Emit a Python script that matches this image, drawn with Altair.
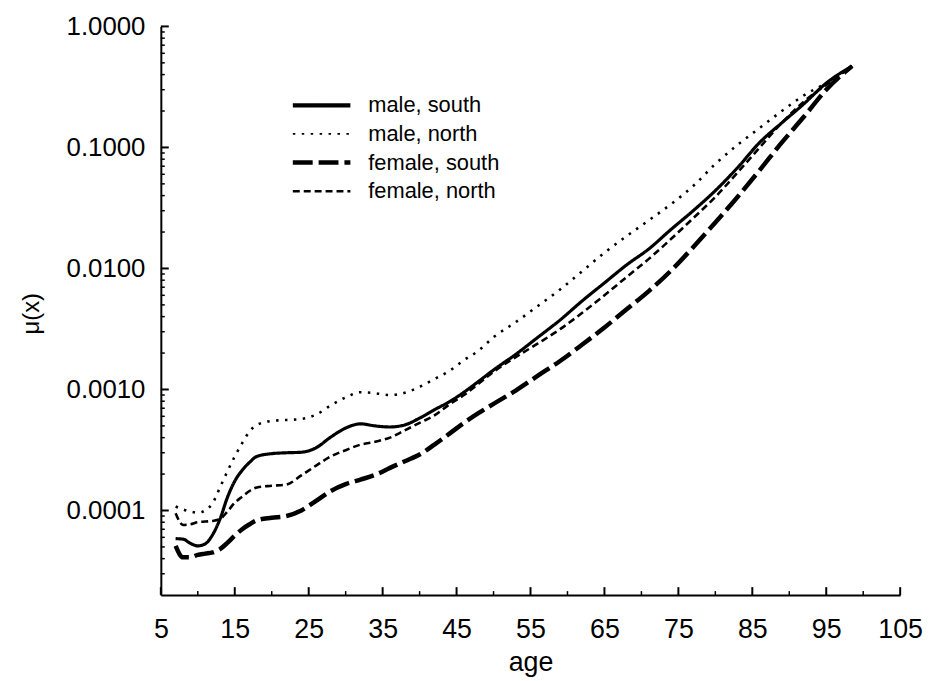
import altair as alt
import pandas as pd

# ---- data ----
ages = [7, 8, 9, 10, 11, 12, 13, 14, 15, 16, 17, 18, 20, 22, 24, 26, 28, 30, 32, 34, 36, 38,
        40, 42, 44, 46, 48, 50, 53, 56, 59, 62, 65, 68, 71, 74, 77, 80, 83, 86, 89, 92, 95, 98.5]

male_south = [5.85e-5, 5.8e-5, 5.35e-5, 5.1e-5, 5.3e-5, 6.3e-5, 8.5e-5, 1.28e-4, 1.75e-4, 2.15e-4,
              2.5e-4, 2.8e-4, 2.95e-4, 3.0e-4, 3.03e-4, 3.3e-4, 4.05e-4, 4.8e-4, 5.2e-4, 5.0e-4,
              4.9e-4, 5.1e-4, 5.8e-4, 6.8e-4, 7.9e-4, 9.5e-4, 1.17e-3, 1.45e-3, 1.95e-3, 2.7e-3,
              3.75e-3, 5.4e-3, 7.6e-3, 1.07e-2, 1.45e-2, 2.1e-2, 3.0e-2, 4.4e-2, 6.8e-2, 0.11,
              0.16, 0.23, 0.34, 0.47]

male_north = [1.08e-4, 1.02e-4, 9.8e-5, 9.6e-5, 1.0e-4, 1.15e-4, 1.55e-4, 2.1e-4, 2.8e-4, 3.6e-4,
              4.5e-4, 5.1e-4, 5.5e-4, 5.6e-4, 5.7e-4, 6.2e-4, 7.4e-4, 8.6e-4, 9.5e-4, 9.3e-4,
              9.0e-4, 9.4e-4, 1.05e-3, 1.22e-3, 1.42e-3, 1.75e-3, 2.1e-3, 2.7e-3, 3.6e-3, 4.9e-3,
              6.7e-3, 9.5e-3, 1.35e-2, 1.85e-2, 2.5e-2, 3.4e-2, 4.8e-2, 7.3e-2, 0.105, 0.145,
              0.2, 0.27, 0.34, 0.47]

female_south = [5.1e-5, 4.1e-5, 4.1e-5, 4.3e-5, 4.4e-5, 4.5e-5, 4.8e-5, 5.4e-5, 6.2e-5, 7.0e-5,
                7.7e-5, 8.3e-5, 8.7e-5, 9.0e-5, 1.0e-4, 1.2e-4, 1.45e-4, 1.65e-4, 1.8e-4, 1.97e-4,
                2.25e-4, 2.55e-4, 2.9e-4, 3.5e-4, 4.3e-4, 5.3e-4, 6.4e-4, 7.6e-4, 9.8e-4, 1.3e-3,
                1.72e-3, 2.35e-3, 3.25e-3, 4.6e-3, 6.5e-3, 9.6e-3, 1.5e-2, 2.4e-2, 3.9e-2, 6.5e-2,
                0.11, 0.18, 0.3, 0.47]

female_north = [9.5e-5, 7.6e-5, 7.7e-5, 8.0e-5, 8.1e-5, 8.2e-5, 8.5e-5, 9.8e-5, 1.16e-4, 1.3e-4,
                1.45e-4, 1.55e-4, 1.6e-4, 1.64e-4, 1.95e-4, 2.35e-4, 2.8e-4, 3.15e-4, 3.5e-4, 3.7e-4,
                4.0e-4, 4.6e-4, 5.3e-4, 6.1e-4, 7.5e-4, 9.0e-4, 1.12e-3, 1.4e-3, 1.85e-3, 2.4e-3,
                3.15e-3, 4.3e-3, 6.0e-3, 8.5e-3, 1.2e-2, 1.75e-2, 2.6e-2, 3.9e-2, 6.2e-2, 0.1,
                0.16, 0.24, 0.33, 0.47]

series_names = ["male, south", "male, north", "female, south", "female, north"]
series_values = [male_south, male_north, female_south, female_north]
series_widths = [3.2, 2.6, 4.5, 2.6]
legend_widths = [4.2, 1.8, 4.5, 2.6]

x_major = [5, 15, 25, 35, 45, 55, 65, 75, 85, 95, 105]
x_minor = [10, 20, 30, 40, 50, 60, 70, 80, 90, 100]
y_major = [0.0001, 0.001, 0.01, 0.1, 1.0]
y_minor = [m * d for d in [1e-5, 1e-4, 1e-3, 1e-2, 1e-1] for m in range(2, 10) if m * d > 2.5e-5]

# ---- tables ----
rows = []
for name, vals, sw in zip(series_names, series_values, series_widths):
    for a, v in zip(ages, vals):
        rows.append({"age": a, "mu": v, "series": name, "sw": sw})
df = pd.DataFrame(rows)
legend_df = pd.DataFrame({"series": series_names, "sw": legend_widths})

W, H = 745, 573
FONT = "Liberation Sans"

x_scale = alt.Scale(domain=[5, 105], nice=False, zero=False)
y_scale = alt.Scale(type="log", domain=[2e-5, 1], nice=False)
dash_scale = alt.Scale(domain=series_names, range=[[1, 0], [2.5, 6.5], [20, 6], [7, 4]])

lines = alt.Chart(df).mark_line(color="black", interpolate="monotone", strokeJoin="round").encode(
    x=alt.X("age:Q", scale=x_scale,
            axis=alt.Axis(values=x_major, ticks=False, grid=False, domainColor="black",
                          domainWidth=2, labelFontSize=27, labelFont=FONT, labelColor="black",
                          labelPadding=22, labelFlush=False, title="age", titleFont=FONT,
                          titleFontSize=27, titleFontWeight="normal", titleColor="black",
                          titleBaseline="alphabetic", titleY=76)),
    y=alt.Y("mu:Q", scale=y_scale,
            axis=alt.Axis(values=y_major, format=".4f", ticks=False, grid=False,
                          domainColor="black", domainWidth=2, labelFontSize=26, labelFont=FONT,
                          labelColor="black", labelPadding=16, labelFlush=False, title="μ(x)",
                          titleFont=FONT, titleFontSize=24, titleFontWeight="normal",
                          titleColor="black", titleX=-130, titleY=289, titleAlign="center",
                          titleBaseline="middle", titleAngle=270)),
    strokeDash=alt.StrokeDash("series:N", scale=dash_scale, legend=None),
    strokeWidth=alt.StrokeWidth("sw:Q", scale=None, legend=None),
    detail="series:N",
)

xmaj = alt.Chart(pd.DataFrame({"v": x_major})).mark_rule(color="black", strokeWidth=2).encode(
    x=alt.X("v:Q", scale=x_scale), y=alt.value(H), y2=alt.value(H - 8))
xmin = alt.Chart(pd.DataFrame({"v": x_minor})).mark_rule(color="black", strokeWidth=1.5).encode(
    x=alt.X("v:Q", scale=x_scale), y=alt.value(H), y2=alt.value(H - 4))
ymaj = alt.Chart(pd.DataFrame({"v": y_major})).mark_rule(color="black", strokeWidth=2).encode(
    y=alt.Y("v:Q", scale=y_scale), x=alt.value(0), x2=alt.value(8))
ymin = alt.Chart(pd.DataFrame({"v": y_minor})).mark_rule(color="black", strokeWidth=1.5).encode(
    y=alt.Y("v:Q", scale=y_scale), x=alt.value(0), x2=alt.value(4))

plot = alt.layer(lines, xmaj, xmin, ymaj, ymin)

leg_y = alt.Y("series:N", sort=series_names,
              scale=alt.Scale(type="point", domain=series_names, range=[79.5, 166], padding=0),
              axis=None)
leg_rules = alt.Chart(legend_df).mark_rule(color="black").encode(
    x=alt.value(133), x2=alt.value(191), y=leg_y,
    strokeDash=alt.StrokeDash("series:N", scale=dash_scale, legend=None),
    strokeWidth=alt.StrokeWidth("sw:Q", scale=None, legend=None),
)
leg_text = alt.Chart(legend_df).mark_text(align="left", baseline="middle", fontSize=22,
                                           font=FONT, color="black").encode(
    x=alt.value(209), y=leg_y, text="series:N")
legend = alt.layer(leg_rules, leg_text)

chart = alt.layer(plot, legend).resolve_scale(y="independent").properties(
    width=W, height=H,
    padding={"left": 154, "top": 16, "right": 24, "bottom": 84},
    autosize=alt.AutoSizeParams(type="none"),
    background="white",
).configure_view(stroke=None)

chart.save("out.html", embed_options={"renderer": "svg", "actions": False})
